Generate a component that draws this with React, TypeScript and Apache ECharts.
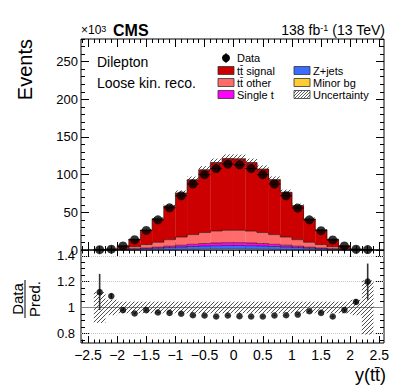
import React, { useEffect, useRef } from "react";
import * as echarts from "echarts";

// ---------------- data (events in units of 10^3) ----------------
const binCenters = [-2.3, -2.1, -1.9, -1.7, -1.5, -1.3, -1.1, -0.9, -0.7, -0.5, -0.3, -0.1, 0.1, 0.3, 0.5, 0.7, 0.9, 1.1, 1.3, 1.5, 1.7, 1.9, 2.1, 2.3];
const binHalfWidth = 0.1;
const dataEvents = [0.4, 1.1, 5.3, 13.6, 26, 40, 56, 72, 87.6, 100, 108, 114, 113, 108, 100, 87.6, 72, 55.7, 40, 25.7, 13.3, 5.3, 1.0, 0.5];
const ttSignal = [0.2, 0.54, 3.5, 9.9, 19.3, 31.3, 44.8, 58.5, 72.8, 83.4, 91.0, 95.3, 95.0, 91.0, 84.3, 73.0, 59.5, 45.2, 31.0, 19.6, 9.9, 3.5, 0.5, 0.26];
const ttOther = [0.1, 0.3, 1.2, 2.8, 4.6, 6.5, 8.6, 10.8, 12.9, 14.6, 15.8, 16.4, 16.4, 15.8, 14.6, 12.9, 10.8, 8.6, 6.5, 4.6, 2.8, 1.2, 0.3, 0.1];
const singleT = [0.02, 0.06, 0.25, 0.6, 1.0, 1.4, 1.9, 2.4, 2.9, 3.3, 3.6, 3.8, 3.8, 3.6, 3.3, 2.9, 2.4, 1.9, 1.4, 1.0, 0.6, 0.25, 0.06, 0.02];
const zJets = [0.03, 0.08, 0.35, 0.8, 1.3, 1.9, 2.6, 3.2, 3.8, 4.3, 4.7, 4.9, 4.9, 4.7, 4.3, 3.8, 3.2, 2.6, 1.9, 1.3, 0.8, 0.35, 0.08, 0.03];
const minorBg = [0.01, 0.02, 0.08, 0.2, 0.3, 0.45, 0.6, 0.75, 0.85, 0.95, 1.0, 1.05, 1.05, 1.0, 0.95, 0.85, 0.75, 0.6, 0.45, 0.3, 0.2, 0.08, 0.02, 0.01];
const relUncertainty = [0.12, 0.06, 0.045, 0.045, 0.045, 0.045, 0.045, 0.045, 0.045, 0.045, 0.045, 0.045, 0.045, 0.045, 0.045, 0.045, 0.045, 0.045, 0.045, 0.045, 0.045, 0.045, 0.06, 0.21];
const ratioValues = [1.12, 1.088, 0.98, 0.953, 0.98, 0.961, 0.958, 0.951, 0.94, 0.938, 0.93, 0.938, 0.933, 0.93, 0.93, 0.938, 0.94, 0.945, 0.971, 0.958, 0.93, 0.98, 1.043, 1.2];
const ratioErrors = [0.14, 0.018, 0.008, 0.006, 0.005, 0.004, 0.004, 0.004, 0.003, 0.003, 0.003, 0.003, 0.003, 0.003, 0.003, 0.003, 0.004, 0.004, 0.004, 0.005, 0.006, 0.008, 0.02, 0.14];

const xTickLabels = [-2.5, -2, -1.5, -1, -0.5, 0, 0.5, 1, 1.5, 2, 2.5];
const yTickLabels = [0, 50, 100, 150, 200, 250];
const ratioTickLabels = [0.8, 1, 1.2, 1.4];

const legendNames = ["Data", "tt\u0304 signal", "tt\u0304 other", "Single t", "Z+jets", "Minor bg", "Uncertainty"];

// ---------------- styling ----------------
const FONT = "'Liberation Sans', Arial, Helvetica, sans-serif";
const stackComps = [minorBg, zJets, singleT, ttOther, ttSignal];
const stackColors = ["#ffcc33", "#3b6cff", "#ff00ff", "#ff6b6b", "#cc0000"];
const X_MIN = -2.62, X_MAX = 2.58;
const Y_MAX = 280;
const R_MIN = 0.725, R_MAX = 1.445;

function cumUpper(k: number, i: number) {
  let s = 0;
  for (let j = 0; j <= k; j++) s += stackComps[j][i];
  return s;
}
function stackTotal(i: number) {
  return cumUpper(stackComps.length - 1, i);
}

function hatch(x1: number, y1: number, x2: number, y2: number, sp: number, style: any) {
  const els: any[] = [];
  const start = Math.ceil((x1 + y1) / sp) * sp;
  for (let c = start; c <= x2 + y2; c += sp) {
    const xa = Math.max(x1, c - y2);
    const xb = Math.min(x2, c - y1);
    if (xb > xa) els.push({ type: "line", shape: { x1: xa, y1: c - xa, x2: xb, y2: c - xb }, style });
  }
  return els;
}

function range(a: number, b: number, step: number) {
  const out: number[] = [];
  for (let v = a; v <= b + 1e-9; v += step) out.push(Math.round(v * 1000) / 1000);
  return out;
}

function tickAxis(gridIndex: number, position: string, min: number, max: number, ticks: number[], length: number, label?: any) {
  return {
    type: "value",
    gridIndex,
    position,
    min,
    max,
    axisLine: { show: false, onZero: false },
    splitLine: { show: false },
    axisTick: { show: true, inside: true, length, customValues: ticks, lineStyle: { color: "#000", width: 1 } },
    axisLabel: label ? label : { show: false },
  };
}

function buildOption() {
  const xMinor = range(-2.6, 2.5, 0.1);
  const yMinor = range(0, 280, 10);
  const rMinor = range(0.75, 1.4, 0.05);
  const hatchStyle = { stroke: "#222", lineWidth: 0.8 };
  const labelBase = { color: "#000", fontSize: 13, fontFamily: FONT };

  const xAxis = [
    tickAxis(0, "bottom", X_MIN, X_MAX, xTickLabels, 8),
    tickAxis(0, "bottom", X_MIN, X_MAX, xMinor, 4),
    tickAxis(0, "top", X_MIN, X_MAX, xTickLabels, 8),
    tickAxis(0, "top", X_MIN, X_MAX, xMinor, 4),
    tickAxis(1, "bottom", X_MIN, X_MAX, xTickLabels, 7, {
      ...labelBase,
      fontSize: 14,
      margin: 5,
      customValues: xTickLabels,
      formatter: (v: number) => String(v).replace("-", "\u2212"),
    }),
    tickAxis(1, "bottom", X_MIN, X_MAX, xMinor, 3.5),
    tickAxis(1, "top", X_MIN, X_MAX, xTickLabels, 7),
    tickAxis(1, "top", X_MIN, X_MAX, xMinor, 3.5),
  ];
  const yAxis = [
    tickAxis(0, "left", 0, Y_MAX, yTickLabels, 8, { ...labelBase, margin: 3, customValues: yTickLabels }),
    tickAxis(0, "left", 0, Y_MAX, yMinor, 4),
    tickAxis(0, "right", 0, Y_MAX, yTickLabels, 8),
    tickAxis(0, "right", 0, Y_MAX, yMinor, 4),
    tickAxis(1, "left", R_MIN, R_MAX, ratioTickLabels, 8, {
      ...labelBase,
      margin: 6,
      customValues: ratioTickLabels,
      formatter: (v: number) => (Math.abs(v - 1) < 1e-9 ? "1" : v.toFixed(1)),
    }),
    tickAxis(1, "left", R_MIN, R_MAX, rMinor, 4),
    tickAxis(1, "right", R_MIN, R_MAX, ratioTickLabels, 8),
    tickAxis(1, "right", R_MIN, R_MAX, rMinor, 4),
  ];

  const mainData = binCenters.map((c, i) => [c, stackTotal(i)]);
  const series: any[] = [];

  // stacked fills
  stackComps.forEach((comp, k) => {
    series.push({
      type: "custom",
      xAxisIndex: 0,
      yAxisIndex: 0,
      data: binCenters.map((c, i) => [c, cumUpper(k, i)]),
      encode: { x: 0, y: 1 },
      silent: true,
      renderItem: (params: any, api: any) => {
        const i = params.dataIndex;
        const upper = cumUpper(k, i);
        const lower = upper - comp[i];
        const tl = api.coord([binCenters[i] - binHalfWidth, upper]);
        const br = api.coord([binCenters[i] + binHalfWidth, lower]);
        return {
          type: "rect",
          shape: { x: tl[0], y: tl[1], width: br[0] - tl[0] + 0.3, height: br[1] - tl[1] },
          style: { fill: stackColors[k] },
        };
      },
    });
  });

  // stack outlines
  series.push({
    type: "custom",
    xAxisIndex: 0,
    yAxisIndex: 0,
    data: mainData,
    encode: { x: 0, y: 1 },
    silent: true,
    renderItem: (params: any, api: any) => {
      const i = params.dataIndex;
      const children: any[] = [];
      const st = { stroke: "#111", lineWidth: 0.7, opacity: 0.85 };
      for (let k = 0; k < stackComps.length; k++) {
        const up = cumUpper(k, i);
        const a = api.coord([binCenters[i] - binHalfWidth, up]);
        const b = api.coord([binCenters[i] + binHalfWidth, up]);
        children.push({ type: "line", shape: { x1: a[0], y1: a[1], x2: b[0], y2: b[1] }, style: st });
        const nextUp = i < binCenters.length - 1 ? cumUpper(k, i + 1) : 0;
        const c = api.coord([binCenters[i] + binHalfWidth, nextUp]);
        children.push({ type: "line", shape: { x1: b[0], y1: b[1], x2: c[0], y2: c[1] }, style: st });
        if (i === 0) {
          const z = api.coord([binCenters[i] - binHalfWidth, 0]);
          children.push({ type: "line", shape: { x1: a[0], y1: a[1], x2: z[0], y2: z[1] }, style: st });
        }
      }
      return { type: "group", children };
    },
  });

  // main uncertainty hatch
  series.push({
    type: "custom",
    xAxisIndex: 0,
    yAxisIndex: 0,
    data: mainData,
    encode: { x: 0, y: 1 },
    silent: true,
    renderItem: (params: any, api: any) => {
      const i = params.dataIndex;
      const t = stackTotal(i);
      const tl = api.coord([binCenters[i] - binHalfWidth, t * (1 + relUncertainty[i])]);
      const br = api.coord([binCenters[i] + binHalfWidth, t * (1 - relUncertainty[i])]);
      return { type: "group", children: hatch(tl[0], tl[1], br[0], br[1], 4, hatchStyle) };
    },
  });

  // main data points (with horizontal bin-width bars)
  series.push({
    type: "custom",
    xAxisIndex: 0,
    yAxisIndex: 0,
    data: binCenters.map((c, i) => [c, dataEvents[i]]),
    encode: { x: 0, y: 1 },
    silent: true,
    z: 4,
    renderItem: (params: any, api: any) => {
      const i = params.dataIndex;
      const a = api.coord([binCenters[i] - binHalfWidth, dataEvents[i]]);
      const b = api.coord([binCenters[i] + binHalfWidth, dataEvents[i]]);
      return { type: "line", shape: { x1: a[0], y1: a[1], x2: b[0], y2: b[1] }, style: { stroke: "#000", lineWidth: 1 } };
    },
  });
  series.push({
    type: "scatter",
    xAxisIndex: 0,
    yAxisIndex: 0,
    data: binCenters.map((c, i) => [c, dataEvents[i]]),
    symbol: "circle",
    symbolSize: 9,
    itemStyle: { color: "#000" },
    z: 5,
    silent: true,
  });

  // ratio uncertainty hatch
  series.push({
    type: "custom",
    xAxisIndex: 4,
    yAxisIndex: 4,
    data: binCenters.map((c) => [c, 1]),
    encode: { x: 0, y: 1 },
    silent: true,
    renderItem: (params: any, api: any) => {
      const i = params.dataIndex;
      const tl = api.coord([binCenters[i] - binHalfWidth, 1 + relUncertainty[i]]);
      const br = api.coord([binCenters[i] + binHalfWidth, 1 - relUncertainty[i]]);
      return { type: "group", children: hatch(tl[0], tl[1], br[0], br[1], 4, hatchStyle) };
    },
  });

  // ratio error bars
  series.push({
    type: "custom",
    xAxisIndex: 4,
    yAxisIndex: 4,
    data: binCenters.map((c, i) => [c, ratioValues[i]]),
    encode: { x: 0, y: 1 },
    silent: true,
    z: 4,
    renderItem: (params: any, api: any) => {
      const i = params.dataIndex;
      const a = api.coord([binCenters[i], ratioValues[i] + ratioErrors[i]]);
      const b = api.coord([binCenters[i], ratioValues[i] - ratioErrors[i]]);
      return { type: "line", shape: { x1: a[0], y1: a[1], x2: b[0], y2: b[1] }, style: { stroke: "#333", lineWidth: 1.6 } };
    },
  });

  // ratio points + reference lines
  series.push({
    type: "scatter",
    xAxisIndex: 4,
    yAxisIndex: 4,
    data: binCenters.map((c, i) => [c, ratioValues[i]]),
    symbol: "circle",
    symbolSize: 6.5,
    itemStyle: { color: "#000" },
    z: 5,
    silent: true,
    markLine: {
      silent: true,
      symbol: "none",
      label: { show: false },
      z: 1,
      data: [
        { yAxis: 0.8, lineStyle: { type: "dotted", color: "#c8c8c8", width: 1 } },
        { yAxis: 1.2, lineStyle: { type: "dotted", color: "#c8c8c8", width: 1 } },
        { yAxis: 1.4, lineStyle: { type: "dotted", color: "#c8c8c8", width: 1 } },
        { yAxis: 1, lineStyle: { type: "solid", color: "#888", width: 1 } },
      ],
    },
  });

  // ---------------- graphic: texts & legend ----------------
  const txt = (x: number, y: number, text: string, size: number, extra: any = {}) => ({
    type: "text",
    x,
    y,
    silent: true,
    style: { text, fontSize: size, fontFamily: FONT, fill: "#000", align: "left", verticalAlign: "middle", ...extra },
  });

  const graphics: any[] = [];
  graphics.push(
    txt(81, 30, "{a|\u00d710}{b|3}", 12, {
      rich: { a: { fontSize: 12, fontFamily: FONT, verticalAlign: "bottom" }, b: { fontSize: 9, fontFamily: FONT, verticalAlign: "top" } },
    })
  );
  graphics.push(txt(113, 30, "CMS", 16, { fontWeight: "bold" }));
  graphics.push(
    txt(385, 30, "{a|138 fb}{b|-1}{a| (13 TeV)}", 14, {
      align: "right",
      rich: { a: { fontSize: 14, fontFamily: FONT, verticalAlign: "bottom" }, b: { fontSize: 9, fontFamily: FONT, verticalAlign: "top" } },
    })
  );
  graphics.push(txt(97, 62, "Dilepton", 14));
  graphics.push(txt(97, 83, "Loose kin. reco.", 14));
  graphics.push({
    type: "text",
    x: 25,
    y: 39,
    rotation: Math.PI / 2,
    silent: true,
    style: { text: "Events", fontSize: 20, fontFamily: FONT, fill: "#000", align: "right", verticalAlign: "middle" },
  });
  graphics.push({
    type: "group",
    x: 25,
    y: 299,
    rotation: Math.PI / 2,
    silent: true,
    children: [
      { type: "text", x: 0, y: -8, style: { text: "Data", fontSize: 15, fontFamily: FONT, fill: "#000", align: "center", verticalAlign: "middle" } },
      { type: "line", shape: { x1: -19, y1: 0, x2: 19, y2: 0 }, style: { stroke: "#000", lineWidth: 1 } },
      { type: "text", x: 0, y: 9, style: { text: "Pred.", fontSize: 15, fontFamily: FONT, fill: "#000", align: "center", verticalAlign: "middle" } },
    ],
  });
  graphics.push(txt(386, 375, "y(tt\u0304)", 18, { align: "right" }));

  // legend
  const rowY = [58, 70.5, 82.5, 94.5];
  graphics.push({ type: "circle", shape: { cx: 226, cy: rowY[0], r: 4 }, style: { fill: "#000" }, silent: true });
  graphics.push({ type: "line", shape: { x1: 226, y1: rowY[0] - 5, x2: 226, y2: rowY[0] + 5 }, style: { stroke: "#000", lineWidth: 1 }, silent: true });
  graphics.push(txt(237, rowY[0], legendNames[0], 11));
  const legendBoxes = [
    { col: 0, row: 1, name: legendNames[1], color: stackColors[4] },
    { col: 0, row: 2, name: legendNames[2], color: stackColors[3] },
    { col: 0, row: 3, name: legendNames[3], color: stackColors[2] },
    { col: 1, row: 1, name: legendNames[4], color: stackColors[1] },
    { col: 1, row: 2, name: legendNames[5], color: stackColors[0] },
    { col: 1, row: 3, name: legendNames[6], color: null as any },
  ];
  const colX = [218, 294];
  legendBoxes.forEach((b) => {
    const x = colX[b.col];
    const y = rowY[b.row] - 4;
    if (b.color) {
      graphics.push({ type: "rect", shape: { x, y, width: 16, height: 8 }, style: { fill: b.color, stroke: "#333", lineWidth: 0.8 }, silent: true });
    } else {
      graphics.push({ type: "group", silent: true, children: hatch(x, y, x + 16, y + 8, 3, { stroke: "#333", lineWidth: 0.8 }) });
      graphics.push({ type: "rect", shape: { x, y, width: 16, height: 8 }, style: { fill: "none", stroke: "#333", lineWidth: 0.8 }, silent: true });
    }
    graphics.push(txt(x + 19, rowY[b.row], b.name, 11));
  });

  return {
    animation: false,
    backgroundColor: "#fff",
    grid: [
      { left: 81, top: 39, width: 303, height: 211, show: true, borderColor: "#000", borderWidth: 1, backgroundColor: "transparent" },
      { left: 81, top: 250, width: 303, height: 93, show: true, borderColor: "#000", borderWidth: 1, backgroundColor: "transparent" },
    ],
    xAxis,
    yAxis,
    series,
    graphic: graphics,
  };
}

export default function App() {
  const ref = useRef<HTMLDivElement>(null);
  useEffect(() => {
    document.body.style.margin = "0";
    const chart = echarts.init(ref.current as HTMLDivElement, undefined, { renderer: "svg" });
    chart.setOption(buildOption() as any);
    return () => chart.dispose();
  }, []);
  return <div ref={ref} style={{ width: 407, height: 391, background: "#fff" }} />;
}
